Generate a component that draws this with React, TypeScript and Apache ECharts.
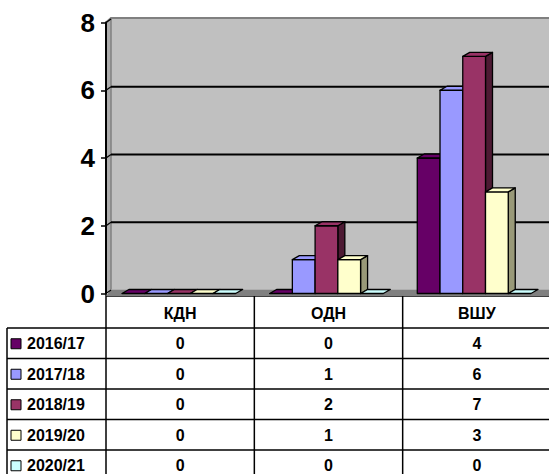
import React, { useEffect, useRef } from "react";
import * as echarts from "echarts";

const categories = ["КДН", "ОДН", "ВШУ"];
const seriesNames = ["2016/17", "2017/18", "2018/19", "2019/20", "2020/21"];
const values2016 = [0, 0, 4];
const values2017 = [0, 1, 6];
const values2018 = [0, 2, 7];
const values2019 = [0, 1, 3];
const values2020 = [0, 0, 0];
const allValues = [values2016, values2017, values2018, values2019, values2020];
const yTicks = [0, 2, 4, 6, 8];

const colors = ["#660066", "#9999FF", "#993366", "#FFFFCC", "#CCFFFF"];
const sideColors = ["#330033", "#6b6bb3", "#4d1a33", "#999978", "#7aa3a3"];

const FONT = "'Liberation Sans', Arial, sans-serif";
const W = 549;
const H = 474;
const WALL_DX = 5;
const WALL_DY = -4;
const BAR_DX = 7;
const BAR_DY = -4;

export default function App() {
  const ref = useRef<HTMLDivElement>(null);

  useEffect(() => {
    if (!ref.current) return;
    const chart = echarts.init(ref.current, undefined, { renderer: "svg" });

    const gridLeft = 106;
    const gridTop = 22.5;
    const gridBottomY = 293.5;
    const gridWidth = 445;

    const wallSeries: any = {
      type: "custom",
      z: 1,
      silent: true,
      data: [[0, 0]],
      renderItem: (params: any, api: any) => {
        const cs = params.coordSys;
        const x = cs.x, y = cs.y, w = cs.width, h = cs.height;
        return {
          type: "group",
          children: [
            {
              type: "rect",
              shape: { x: x + WALL_DX, y: y + WALL_DY, width: w + 10, height: h },
              style: { fill: "#C0C0C0", stroke: null },
            },
            {
              type: "polygon",
              shape: {
                points: [
                  [x, y],
                  [x + WALL_DX, y + WALL_DY],
                  [x + WALL_DX, y + h + WALL_DY],
                  [x, y + h],
                ],
              },
              style: { fill: "#ACACAC", stroke: null },
            },
            {
              type: "line",
              shape: { x1: x + WALL_DX, y1: y + WALL_DY, x2: x + WALL_DX, y2: y + h + WALL_DY },
              style: { stroke: "#808080", lineWidth: 1.5 },
            },
            {
              type: "polyline",
              shape: {
                points: [
                  [x, y],
                  [x + WALL_DX, y + WALL_DY - 0.5],
                  [x + w + 10, y + WALL_DY - 0.5],
                ],
              },
              style: { stroke: "#808080", lineWidth: 2, fill: null },
            },
            {
              type: "polygon",
              shape: {
                points: [
                  [x, y + h + 2.5],
                  [x + WALL_DX, y + h + WALL_DY],
                  [x + w + 10, y + h + WALL_DY],
                  [x + w + 10, y + h + 2.5],
                ],
              },
              style: { fill: "#808080", stroke: null },
            },
          ],
        };
      },
    };

    const gridLineSeries: any = {
      type: "custom",
      z: 2,
      silent: true,
      data: yTicks.map((t) => [0, t]),
      renderItem: (params: any, api: any) => {
        const cs = params.coordSys;
        const v = api.value(1);
        const yy = api.coord([0, v])[1];
        const children: any[] = [
          {
            type: "line",
            shape: { x1: cs.x, y1: yy, x2: cs.x + WALL_DX, y2: yy + WALL_DY + 0.5 },
            style: { stroke: "#000", lineWidth: 1.3 },
          },
        ];
        if (v > 0 && v < 8) {
          children.push({
            type: "line",
            shape: { x1: cs.x + WALL_DX, y1: yy + WALL_DY + 0.5, x2: cs.x + cs.width + 10, y2: yy + WALL_DY + 0.5 },
            style: { stroke: "#000", lineWidth: 2 },
          });
        }
        return { type: "group", children };
      },
    };

    const barSeries = seriesNames.map((name, s) => ({
      type: "custom",
      name,
      z: 3 + s,
      silent: true,
      data: allValues[s].map((v, i) => [i, v]),
      renderItem: (params: any, api: any) => {
        const cat = api.value(0);
        const val = api.value(1);
        const base = api.coord([cat, 0]);
        const top = api.coord([cat, val]);
        const band = api.size([1, 0])[0];
        const bw = band * 0.154;
        const x0 = base[0] - band / 2 + band * 0.108 + s * bw;
        const x1 = x0 + bw;
        const yb = base[1];
        const yt = top[1];
        const stroke = { stroke: "#000", lineWidth: 1.3, lineJoin: "round" };
        const children: any[] = [];
        if (val > 0) {
          children.push({
            type: "polygon",
            shape: { points: [[x1, yt], [x1 + BAR_DX, yt + BAR_DY], [x1 + BAR_DX, yb + BAR_DY], [x1, yb]] },
            style: { fill: sideColors[s], ...stroke },
          });
          children.push({
            type: "rect",
            shape: { x: x0, y: yt, width: bw, height: yb - yt },
            style: { fill: colors[s], ...stroke },
          });
        }
        children.push({
          type: "polygon",
          shape: { points: [[x0, yt], [x0 + BAR_DX, yt + BAR_DY], [x1 + BAR_DX, yt + BAR_DY], [x1, yt]] },
          style: { fill: colors[s], ...stroke },
        });
        return { type: "group", children };
      },
    }));

    // data table
    const tableTop = 296;
    const headerBottom = 328;
    const rowH = 30.5;
    const colEdges = [gridLeft, gridLeft + gridWidth / 3, gridLeft + (2 * gridWidth) / 3, gridLeft + gridWidth];
    const legendLeft = 7;
    const graphics: any[] = [];
    const lineStyle = { stroke: "#000", lineWidth: 1.5 };
    graphics.push({ type: "line", shape: { x1: gridLeft, y1: tableTop, x2: W, y2: tableTop }, style: lineStyle });
    for (let r = 0; r < seriesNames.length; r++) {
      const yy = headerBottom + r * rowH;
      graphics.push({ type: "line", shape: { x1: legendLeft, y1: yy, x2: W, y2: yy }, style: lineStyle });
    }
    graphics.push({ type: "line", shape: { x1: legendLeft, y1: headerBottom, x2: legendLeft, y2: H }, style: lineStyle });
    for (let c = 0; c < 3; c++) {
      graphics.push({ type: "line", shape: { x1: colEdges[c], y1: tableTop - 2, x2: colEdges[c], y2: H }, style: lineStyle });
    }
    categories.forEach((cat, c) => {
      graphics.push({
        type: "text",
        x: (colEdges[c] + colEdges[c + 1]) / 2,
        y: (tableTop + headerBottom) / 2 + 1,
        style: { text: cat, font: `bold 16px ${FONT}`, fill: "#000", align: "center", verticalAlign: "middle" },
      });
    });
    seriesNames.forEach((name, r) => {
      const rowTop = headerBottom + r * rowH;
      const cy = rowTop + rowH / 2 + 0.5;
      graphics.push({
        type: "rect",
        shape: { x: 11, y: cy - 5, width: 10, height: 10 },
        style: { fill: colors[r], stroke: "#000", lineWidth: 1 },
      });
      graphics.push({
        type: "text",
        x: 27,
        y: cy,
        style: { text: name, font: `bold 16px ${FONT}`, fill: "#000", align: "left", verticalAlign: "middle" },
      });
      allValues[r].forEach((v, c) => {
        graphics.push({
          type: "text",
          x: (colEdges[c] + colEdges[c + 1]) / 2,
          y: cy,
          style: { text: String(v), font: `bold 16px ${FONT}`, fill: "#000", align: "center", verticalAlign: "middle" },
        });
      });
    });

    chart.setOption({
      animation: false,
      backgroundColor: "#fff",
      grid: { left: gridLeft, top: gridTop, width: gridWidth, height: gridBottomY - gridTop },
      xAxis: {
        type: "category",
        data: categories,
        axisLine: { show: false },
        axisTick: { show: false },
        axisLabel: { show: false },
        splitLine: { show: false },
      },
      yAxis: {
        type: "value",
        min: 0,
        max: 8,
        interval: 2,
        axisLine: { show: true, lineStyle: { color: "#000", width: 2 } },
        axisTick: { show: true, length: 5, lineStyle: { color: "#000", width: 1.5 } },
        axisLabel: { color: "#000", fontSize: 26, fontWeight: "bold", fontFamily: FONT, margin: 11 },
        splitLine: { show: false },
        z: 10,
      },
      series: [wallSeries, gridLineSeries, ...barSeries],
      graphic: graphics,
    });

    return () => chart.dispose();
  }, []);

  return (
    <div
      ref={ref}
      style={{ position: "fixed", left: 0, top: 0, width: W, height: H, background: "#fff" }}
    />
  );
}
